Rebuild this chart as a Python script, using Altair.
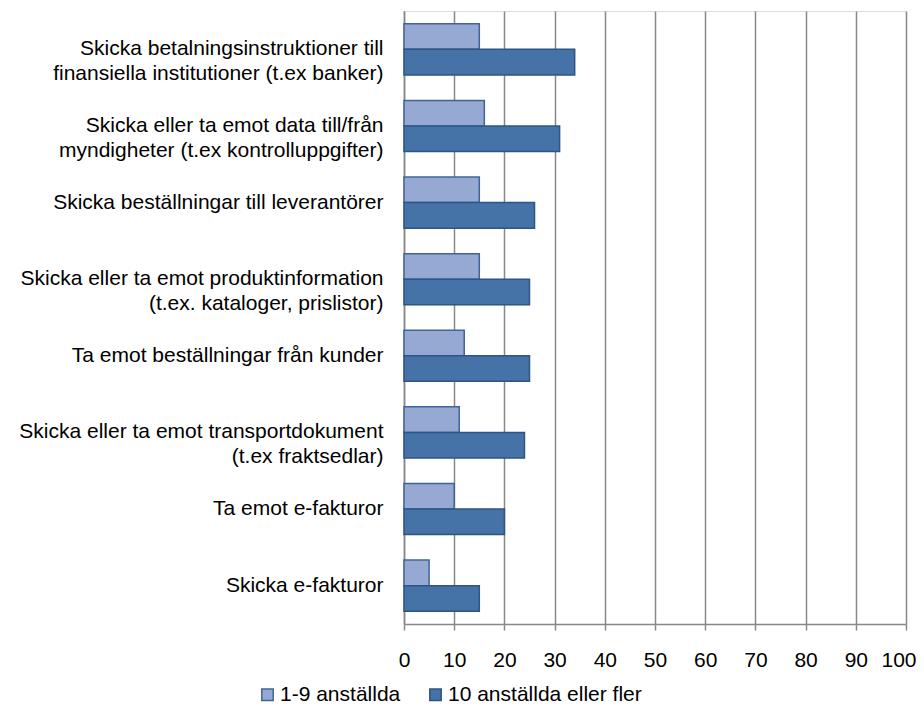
import altair as alt
import pandas as pd

categories = [
    "Skicka betalningsinstruktioner till|finansiella institutioner (t.ex banker)",
    "Skicka eller ta emot data till/från|myndigheter (t.ex kontrolluppgifter)",
    "Skicka beställningar till leverantörer",
    "Skicka eller ta emot produktinformation|(t.ex. kataloger, prislistor)",
    "Ta emot beställningar från kunder",
    "Skicka eller ta emot transportdokument|(t.ex fraktsedlar)",
    "Ta emot e-fakturor",
    "Skicka e-fakturor",
]
series_names = ["1-9 anställda", "10 anställda eller fler"]
small = [15, 16, 15, 15, 12, 11, 10, 5]
large = [34, 31, 26, 25, 25, 24, 20, 15]
x_ticks = [0, 10, 20, 30, 40, 50, 60, 70, 80, 90, 100]

rows = []
for c, s, l in zip(categories, small, large):
    rows.append({"category": c, "series": series_names[0], "value": s})
    rows.append({"category": c, "series": series_names[1], "value": l})
df = pd.DataFrame(rows)

fill_colors = ["#95A9D3", "#4572A7"]
stroke_colors = ["#40649A", "#2E5585"]

chart = alt.Chart(df).mark_bar(strokeWidth=1.5).encode(
    x=alt.X(
        "value:Q",
        scale=alt.Scale(domain=[0, 100], nice=False),
        axis=alt.Axis(
            values=x_ticks, title=None, grid=True, gridColor="#888888", gridWidth=1.5,
            domainColor="#888888", domainWidth=1.5, tickColor="#888888", tickWidth=1.5,
            tickSize=6, labelFontSize=21, labelColor="#000000", labelFont="Liberation Sans",
            labelPadding=19, labelFlush=False, labelOverlap=False,
            labelAlign={"condition": {"test": "datum.value == 100", "value": "right"}, "value": "center"},
            labelOffset={"condition": {"test": "datum.value == 100", "value": 10}, "value": 0},
        ),
    ),
    y=alt.Y(
        "category:N",
        sort=categories,
        scale=alt.Scale(paddingInner=0.333, paddingOuter=0.167),
        axis=alt.Axis(
            title=None, labelExpr="split(datum.value, '|')", labelFontSize=21,
            labelColor="#000000", labelFont="Liberation Sans", labelLineHeight=25,
            ticks=False, domainColor="#888888", domainWidth=1.5, labelPadding=21,
            labelLimit=420,
        ),
    ),
    yOffset=alt.YOffset("series:N", sort=series_names),
    color=alt.Color(
        "series:N",
        sort=series_names,
        scale=alt.Scale(domain=series_names, range=fill_colors),
        legend=alt.Legend(
            title=None, orient="none", direction="horizontal", legendX=-147, legendY=673,
            symbolType="square", symbolSize=130, symbolStrokeWidth=1.5,
            labelFontSize=21, labelFont="Liberation Sans", labelColor="#000000",
            columnPadding=24, labelOffset=2, labelLimit=320,
        ),
    ),
    stroke=alt.Stroke(
        "series:N",
        sort=series_names,
        scale=alt.Scale(domain=series_names, range=stroke_colors),
        legend=None,
    ),
).properties(
    width=502,
    height=613,
    padding={"left": 396, "top": 3, "right": 10, "bottom": 80},
    autosize=alt.AutoSizeParams(type="none"),
).configure_view(
    fill="#F0F0F0", stroke="#888888", strokeWidth=1.5
).configure(background="#FFFFFF")

chart.save("out.html", embed_options={"renderer": "svg", "actions": False})
